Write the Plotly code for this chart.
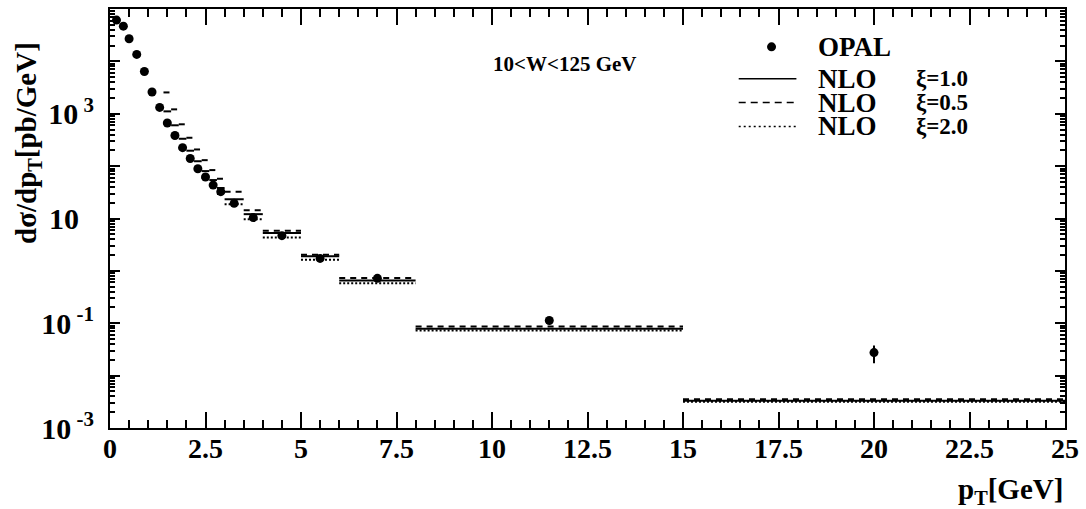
import plotly.graph_objects as go

# ---------------- data ----------------
pt_data = [0.17, 0.35, 0.5, 0.7, 0.9, 1.1, 1.3, 1.5, 1.7, 1.9, 2.1, 2.3, 2.5, 2.7, 2.9,
           3.25, 3.75, 4.5, 5.5, 7.0, 11.5, 20.0]
opal = [61500, 47000, 27000, 13600, 6400, 2600, 1320, 665, 384, 225, 140, 89, 62, 43.5, 32.5,
        19.5, 10.4, 4.7, 1.73, 0.72, 0.113, 0.0275]
opal_err = [1800, 1400, 800, 400, 190, 80, 40, 20, 12, 7, 4.5, 3, 2, 1.5, 1.1,
            0.7, 0.4, 0.2, 0.08, 0.04, 0.008, 0.0102]

nlo_edges = [1.4, 1.6, 1.8, 2.0, 2.2, 2.4, 2.6, 2.8, 3.0, 3.5, 4.0, 5.0, 6.0, 8.0, 15.0, 25.0]
nlo_xi10 = [1111, 602, 333, 197, 124, 80.4, 54.2, 38.2, 23.3, 12.1, 5.26, 1.90, 0.652, 0.0785, 0.00330]
nlo_xi05 = [2553, 1213, 629, 348, 208, 130, 84, 57.4, 32.5, 14.4, 5.81, 2.03, 0.733, 0.0869, 0.00352]
nlo_xi20 = [657, 372, 220, 136, 87.7, 59.2, 41.7, 29.4, 18.7, 9.70, 4.34, 1.63, 0.578, 0.0729, 0.00316]

y_tick_exp = [-3, -2, -1, 0, 1, 2, 3, 4, 5]
y_tick_text = ["10<sup> -3</sup>", "", "10<sup> -1</sup>", "", "10&nbsp;&nbsp;", "",
               "10<sup> 3</sup>", "", ""]
x_tick_vals = [0, 2.5, 5, 7.5, 10, 12.5, 15, 17.5, 20, 22.5, 25]
x_tick_text = ["0", "2.5", "5", "7.5", "10", "12.5", "15", "17.5", "20", "22.5", "25"]

FONT = "Liberation Serif"


def hist_segments(edges, vals):
    xs, ys = [], []
    for i, v in enumerate(vals):
        xs += [edges[i], edges[i + 1], None]
        ys += [v, v, None]
    return xs, ys


fig = go.Figure()

for vals, dash in [(nlo_xi20, "2px,2px"), (nlo_xi10, "solid"), (nlo_xi05, "6px,5px")]:
    xs, ys = hist_segments(nlo_edges, vals)
    fig.add_trace(go.Scatter(x=xs, y=ys, mode="lines", showlegend=False,
                             line=dict(color="black", width=2, dash=dash)))

fig.add_trace(go.Scatter(x=pt_data, y=opal, mode="markers", showlegend=False,
                         marker=dict(color="black", size=9),
                         error_y=dict(type="data", array=opal_err, color="black",
                                      thickness=2, width=0)))

# minor ticks for log axis
y_minor = []
for e in range(-3, 5):
    for d in range(2, 10):
        y_minor.append(d * 10 ** e)

fig.update_layout(
    width=1086, height=509,
    margin=dict(l=110, r=16, t=7, b=81),
    paper_bgcolor="white", plot_bgcolor="white",
    font=dict(family=FONT, color="black", size=24, weight="bold"),
)

fig.update_xaxes(
    range=[0, 25], showgrid=False, zeroline=False,
    showline=True, linecolor="black", linewidth=2, mirror="ticks",
    ticks="inside", ticklen=16, tickwidth=1.5, tickcolor="black",
    tickmode="array", tickvals=x_tick_vals, ticktext=x_tick_text,
    ticklabelstandoff=-6,
    tickfont=dict(family=FONT, size=28, color="black", weight="bold"),
    minor=dict(dtick=0.5, ticks="inside", ticklen=8, tickwidth=1.5, tickcolor="black", showgrid=False),
)

fig.update_yaxes(
    type="log", range=[-3, 5], showgrid=False, zeroline=False,
    showline=True, linecolor="black", linewidth=2, mirror="ticks",
    ticks="inside", ticklen=10, tickwidth=1.5, tickcolor="black",
    tickmode="array", tickvals=[10 ** e for e in y_tick_exp], ticktext=y_tick_text,
    ticklabelstandoff=8,
    tickfont=dict(family=FONT, size=30, color="black", weight="bold"),
    minor=dict(tickmode="array", tickvals=y_minor, ticks="inside", ticklen=5,
               tickwidth=1.5, tickcolor="black", showgrid=False),
)

# -------- axis titles --------
fig.add_annotation(text="dσ/dp<sub>T</sub>[pb/GeV]", xref="paper", yref="paper",
                   x=-0.086, y=0.68, textangle=-90, showarrow=False,
                   xanchor="center", yanchor="middle",
                   font=dict(family=FONT, size=29, color="black", weight="bold"))
fig.add_annotation(text="p<sub>T</sub>[GeV]", xref="paper", yref="paper",
                   x=1.0, y=-0.15, showarrow=False, xanchor="right", yanchor="middle",
                   font=dict(family=FONT, size=29, color="black", weight="bold"))

fig.add_annotation(text="10&lt;W&lt;125 GeV", xref="paper", yref="paper",
                   x=0.476, y=0.8694, showarrow=False, xanchor="center", yanchor="middle",
                   font=dict(family=FONT, size=21, color="black", weight="bold"))

# -------- legend (drawn manually) --------
lx0, lx1 = (742 - 110) / 960, (800 - 110) / 960
tx_name = (820 - 110) / 960
tx_xi = (918 - 110) / 960
rows = [(45, None, "OPAL", ""), (77, "solid", "NLO", "ξ=1.0"),
        (101, "7px,5px", "NLO", "ξ=0.5"), (125, "2px,3px", "NLO", "ξ=2.0")]
for py, dash, name, xi in rows:
    yf = (428 - py) / 421
    if dash is None:
        fig.add_shape(type="circle", xref="paper", yref="paper",
                      xsizemode="pixel", ysizemode="pixel",
                      xanchor=(775 - 110) / 960, yanchor=yf,
                      x0=-4.5, x1=4.5, y0=-4.5, y1=4.5,
                      fillcolor="black", line=dict(color="black", width=0))
    else:
        fig.add_shape(type="line", xref="paper", yref="paper",
                      x0=lx0, x1=lx1, y0=yf, y1=yf,
                      line=dict(color="black", width=1.5, dash=dash))
    fig.add_annotation(text=name, xref="paper", yref="paper", x=tx_name, y=yf,
                       showarrow=False, xanchor="left", yanchor="middle",
                       font=dict(family=FONT, size=27, color="black", weight="bold"))
    if xi:
        fig.add_annotation(text=xi, xref="paper", yref="paper", x=tx_xi, y=yf,
                           showarrow=False, xanchor="left", yanchor="middle",
                           font=dict(family=FONT, size=23, color="black", weight="bold"))

fig.write_html("out.html")
